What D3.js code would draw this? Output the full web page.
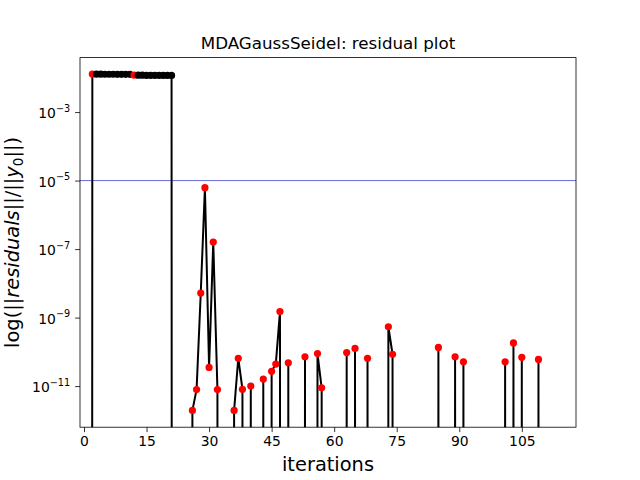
<!DOCTYPE html>
<html>
<head>
<meta charset="utf-8">
<script src="https://cdn.jsdelivr.net/npm/d3@7"></script>
<style>
  html, body { margin: 0; padding: 0; background: #fff; }
  svg { display: block; }
  text { font-family: "DejaVu Sans", sans-serif; fill: #000; }
</style>
</head>
<body>
<svg id="chart" width="640" height="480"></svg>
<script>
// ---- data ----
const iterations = [
  1, 2, 3, 4, 5, 6, 7, 8, 9, 10,
  11, 12, 13, 14, 15, 16, 17, 18, 19, 20,
  21, 22, 23, 24, 25, 26, 27, 28, 29, 30,
  31, 32, 33, 34, 35, 36, 37, 38, 39, 40,
  41, 42, 43, 44, 45, 46, 47, 48, 49, 50,
  51, 52, 53, 54, 55, 56, 57, 58, 59, 60,
  61, 62, 63, 64, 65, 66, 67, 68, 69, 70,
  71, 72, 73, 74, 75, 76, 77, 78, 79, 80,
  81, 82, 83, 84, 85, 86, 87, 88, 89, 90,
  91, 92, 93, 94, 95, 96, 97, 98, 99, 100,
  101, 102, 103, 104, 105, 106, 107, 108, 109, 110
];
// residual norm ratio; 0 = zero residual (clipped off the log axis)
const residuals = [
  0, 1.29e-2, 1.28e-2, 1.28e-2, 1.27e-2, 1.27e-2, 1.27e-2, 1.26e-2, 1.26e-2, 1.26e-2,
  1.26e-2, 1.20e-2, 1.19e-2, 1.19e-2, 1.18e-2, 1.18e-2, 1.18e-2, 1.18e-2, 1.17e-2, 1.17e-2,
  1.17e-2, 0, 0, 0, 0, 1.95e-12, 7.9e-12, 5.2e-9, 6.2e-6, 3.5e-11,
  1.6e-7, 7.9e-12, 0, 0, 0, 1.95e-12, 6.5e-11, 8.1e-12, 0, 1.0e-11,
  0, 0, 1.6e-11, 0, 2.7e-11, 4.4e-11, 1.5e-9, 0, 4.8e-11, 0,
  0, 0, 7.2e-11, 0, 0, 8.9e-11, 8.9e-12, 0, 0, 0,
  0, 0, 9.5e-11, 0, 1.26e-10, 0, 0, 6.5e-11, 0, 0,
  0, 0, 5.4e-10, 8.5e-11, 0, 0, 0, 0, 0, 0,
  0, 0, 0, 0, 1.35e-10, 0, 0, 0, 7.2e-11, 0,
  5.1e-11, 0, 0, 0, 0, 0, 0, 0, 0, 0,
  5.1e-11, 0, 1.82e-10, 0, 6.9e-11, 0, 0, 0, 6.0e-11, 0
];
// iterations drawn with black markers (all other non-zero ones are red)
const blackMarkerIterations = [3, 4, 5, 6, 7, 8, 9, 10, 11, 13, 14, 15, 16, 17, 18, 19, 20, 21];
const toleranceLevel = 1e-5;
const xTickValues = [0, 15, 30, 45, 60, 75, 90, 105];
const yTickExponents = [-3, -5, -7, -9, -11];

const titleText = "MDAGaussSeidel: residual plot";
const xLabelText = "iterations";

// ---- layout ----
const svg = d3.select("#chart");
const L = 80, R = 576, T = 57.6, B = 427.2;

const x = d3.scaleLinear().domain([-0.96, 118]).range([L, R]);
const y = d3.scaleLog().domain([Math.pow(10, -12.2), Math.pow(10, -1.41)]).range([B, T]);
const CLIP_FLOOR = 1e-300; // emulate log-scale clipping of non-positive values

const data = iterations.map((it, i) => ({ it, v: residuals[i] }));

svg.append("rect").attr("width", 640).attr("height", 480).attr("fill", "#fff");

svg.append("defs").append("clipPath").attr("id", "plotclip")
  .append("rect").attr("x", L).attr("y", T).attr("width", R - L).attr("height", B - T);

const plot = svg.append("g").attr("clip-path", "url(#plotclip)");

// tolerance line
plot.append("line")
  .attr("x1", L).attr("x2", R)
  .attr("y1", y(toleranceLevel)).attr("y2", y(toleranceLevel))
  .attr("stroke", "#2a2ac8").attr("stroke-width", 0.7);

// residual line
const line = d3.line()
  .x(d => x(d.it))
  .y(d => y(d.v > 0 ? d.v : CLIP_FLOOR));
plot.append("path")
  .datum(data)
  .attr("d", line)
  .attr("fill", "none")
  .attr("stroke", "#000")
  .attr("stroke-width", 2)
  .attr("stroke-linejoin", "round");

// markers (drawn in iteration order)
const blackSet = new Set(blackMarkerIterations);
plot.selectAll("circle.pt")
  .data(data.filter(d => d.v > 0))
  .join("circle")
  .attr("class", "pt")
  .attr("cx", d => x(d.it))
  .attr("cy", d => y(d.v))
  .attr("r", 3.6)
  .attr("fill", d => blackSet.has(d.it) ? "#000" : "#ff0000");

// ---- axes ----
const xAxis = d3.axisBottom(x).tickValues(xTickValues).tickSize(4.9).tickPadding(4.2);
const gx = svg.append("g").attr("transform", `translate(0,${B})`).call(xAxis);
gx.select(".domain").remove();
gx.selectAll(".tick line").attr("stroke-width", 0.8);
gx.selectAll(".tick text").attr("font-size", 13.9).attr("font-family", "DejaVu Sans");

const yAxis = d3.axisLeft(y).tickValues(yTickExponents.map(e => Math.pow(10, e)))
  .tickSize(4.9).tickFormat("");
const gy = svg.append("g").attr("transform", `translate(${L},0)`).call(yAxis);
gy.select(".domain").remove();
gy.selectAll(".tick line").attr("stroke-width", 0.8);
gy.selectAll(".tick").each(function (d, i) {
  const t = d3.select(this).append("text")
    .attr("x", -9.8).attr("y", 5.5)
    .attr("text-anchor", "end")
    .attr("font-size", 13.9);
  t.append("tspan").text("10");
  t.append("tspan").attr("dy", -6.5).attr("font-size", 9.7)
    .text("\u2212" + Math.abs(yTickExponents[i]));
});

// frame
svg.append("rect")
  .attr("x", L).attr("y", T).attr("width", R - L).attr("height", B - T)
  .attr("fill", "none").attr("stroke", "#000").attr("stroke-width", 0.8);

// title
svg.append("text")
  .attr("x", (L + R) / 2).attr("y", 49)
  .attr("text-anchor", "middle")
  .attr("font-size", 16.7)
  .text(titleText);

// x label
svg.append("text")
  .attr("x", (L + R) / 2).attr("y", 471)
  .attr("text-anchor", "middle")
  .attr("font-size", 19.4)
  .text(xLabelText);

// y label (mathtext-like)
const yl = svg.append("text")
  .attr("transform", `translate(19,${(T + B) / 2}) rotate(-90)`)
  .attr("text-anchor", "middle")
  .attr("font-size", 19.4);
yl.append("tspan").text("log(||");
yl.append("tspan").attr("font-style", "italic").text("residuals");
yl.append("tspan").text("||/||");
yl.append("tspan").attr("font-style", "italic").text("y");
yl.append("tspan").attr("font-size", 13.6).attr("dy", 3.5).text("0");
yl.append("tspan").attr("dy", -3.5).text("||)");
</script>
</body>
</html>
